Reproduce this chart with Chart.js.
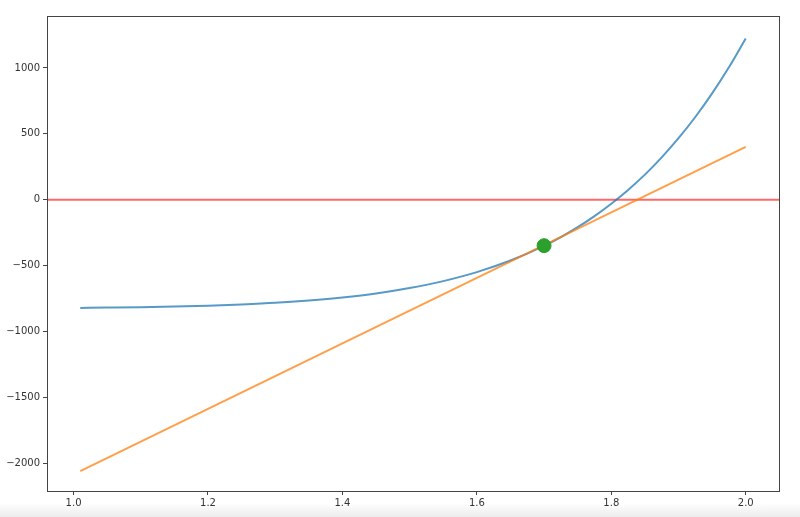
<!DOCTYPE html>
<html>
<head>
<meta charset="utf-8">
<script src="https://cdn.jsdelivr.net/npm/chart.js@4/dist/chart.umd.min.js"></script>
<style>
  html, body { margin: 0; padding: 0; }
  body { width: 800px; height: 517px; overflow: hidden;
         background: linear-gradient(to bottom, #fff 0px, #fff 503px, #ececec 517px); }
  canvas { display: block; }
</style>
</head>
<body>
<canvas id="chart" width="800" height="517"></canvas>
<script>
// curve samples
var curveX = [1.01, 1.05, 1.10, 1.15, 1.20, 1.25, 1.30, 1.35, 1.40, 1.45, 1.50,
              1.55, 1.60, 1.65, 1.70, 1.725, 1.75, 1.775, 1.80, 1.825, 1.85,
              1.875, 1.90, 1.925, 1.95, 1.975, 2.00];
var curveY = [-820, -818, -815, -810, -803, -794, -782, -764, -741, -711, -670,
              -617, -549, -461, -350, -283, -208, -124, -30, 75, 191,
              322, 467, 628, 807, 1005, 1224];
// tangent line end points
var tangentX = [1.01, 2.00];
var tangentY = [-2058, 401];
// marked point
var pointX = [1.70];
var pointY = [-348];
// axis limits and tick labels
var xLimits = [0.9605, 2.0495];
var yLimits = [-2209, 1394];
var xTicks = [1.0, 1.2, 1.4, 1.6, 1.8, 2.0];
var yTicks = [-2000, -1500, -1000, -500, 0, 500, 1000];

function toXY(xs, ys) {
    return xs.map(function(x, i) { return {x: x, y: ys[i]}; });
}

var framePlugin = {
    id: 'frame',
    afterDraw: function(chart) {
        var a = chart.chartArea, ctx = chart.ctx;
        ctx.save();
        ctx.strokeStyle = '#444';
        ctx.lineWidth = 1;
        ctx.strokeRect(Math.round(a.left) + 0.5, Math.round(a.top) + 0.5,
                       Math.round(a.right - a.left), Math.round(a.bottom - a.top));
        ctx.restore();
    }
};

var ctx = document.getElementById('chart').getContext('2d');
var tickFont = { family: 'DejaVu Sans', size: 10 };

new Chart(ctx, {
    type: 'scatter',
    data: {
        datasets: [{
            label: 'point',
            data: toXY(pointX, pointY),
            backgroundColor: '#2ca02c',
            borderColor: '#2ca02c',
            pointRadius: 7,
            order: 0
        }, {
            label: 'tangent',
            data: toXY(tangentX, tangentY),
            showLine: true,
            borderColor: 'rgba(255,127,14,0.75)',
            borderWidth: 2,
            pointRadius: 0,
            order: 1
        }, {
            label: 'curve',
            data: toXY(curveX, curveY),
            showLine: true,
            cubicInterpolationMode: 'monotone',
            borderColor: 'rgba(31,119,180,0.75)',
            borderWidth: 2,
            pointRadius: 0,
            order: 2
        }, {
            label: 'zero',
            data: toXY(xLimits, [0, 0]),
            showLine: true,
            borderColor: 'rgba(255,40,40,0.7)',
            borderWidth: 2,
            pointRadius: 0,
            order: 3
        }]
    },
    options: {
        responsive: false,
        animation: false,
        layout: { padding: { top: 16, right: 21, left: 0, bottom: 0 } },
        plugins: { legend: { display: false }, tooltip: { enabled: false } },
        scales: {
            x: {
                type: 'linear',
                min: xLimits[0],
                max: xLimits[1],
                afterFit: function(s) { s.height = 26; },
                afterBuildTicks: function(s) {
                    s.ticks = xTicks.map(function(v) { return {value: v}; });
                },
                ticks: {
                    autoSkip: false,
                    maxRotation: 0,
                    padding: 2,
                    color: '#333',
                    font: tickFont,
                    callback: function(v) { return v.toFixed(1); }
                },
                grid: { drawOnChartArea: false, drawTicks: true, tickLength: 4, color: '#444' },
                border: { display: true, color: '#444' }
            },
            y: {
                type: 'linear',
                min: yLimits[0],
                max: yLimits[1],
                afterFit: function(s) { s.width = 47; },
                afterBuildTicks: function(s) {
                    s.ticks = yTicks.map(function(v) { return {value: v}; });
                },
                ticks: {
                    autoSkip: false,
                    padding: 3,
                    color: '#333',
                    font: tickFont,
                    callback: function(v) { return v < 0 ? '\u2212' + Math.abs(v) : String(v); }
                },
                grid: { drawOnChartArea: false, drawTicks: true, tickLength: 4, color: '#444' },
                border: { display: true, color: '#444' }
            }
        }
    },
    plugins: [framePlugin]
});
</script>
</body>
</html>
